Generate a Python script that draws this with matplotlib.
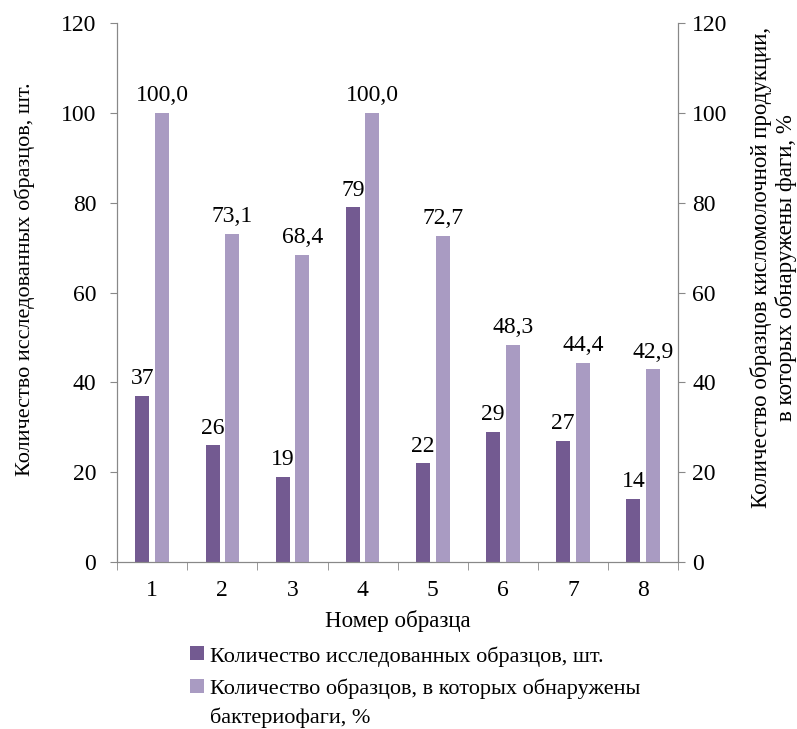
import matplotlib.pyplot as plt
import numpy as np

plt.rcParams['font.family'] = ['Liberation Serif', 'DejaVu Serif']

samples = ['1', '2', '3', '4', '5', '6', '7', '8']
counts = [37, 26, 19, 79, 22, 29, 27, 14]
percents = [100.0, 73.1, 68.4, 100.0, 72.7, 48.3, 44.4, 42.9]

dark = '#735a91'
light = '#a99bc2'
axis_col = '#888888'

fig = plt.figure(figsize=(7.97, 7.29), dpi=100)
ax = fig.add_axes([0.147, 0.229, 0.704, 0.739])
ax2 = ax.twinx()

x = np.arange(len(samples))
w = 0.2
off = 0.14

b1 = ax.bar(x - off, counts, w, color=dark, label='Количество исследованных образцов, шт.')
b2 = ax2.bar(x + off, percents, w, color=light,
             label='Количество образцов, в которых обнаружены\nбактериофаги, %')

# value labels
for xi, v in zip(x, counts):
    ax.text(xi - off, v + 1.5, str(v), ha='center', va='bottom', fontsize=17)
for xi, v in zip(x, percents):
    ax2.text(xi + off, v + 1.5, f'{v:.1f}'.replace('.', ','), ha='center', va='bottom', fontsize=17)

for a in (ax, ax2):
    a.set_ylim(0, 120)
    a.set_yticks(range(0, 121, 20))
    a.set_xlim(-0.5, len(samples) - 0.5)
    a.spines['top'].set_visible(False)
    for s in a.spines.values():
        s.set_color(axis_col)
ax.tick_params(axis='y', colors=axis_col, labelcolor='black', labelsize=17, length=5, pad=10)
ax2.tick_params(axis='y', colors=axis_col, labelcolor='black', labelsize=17, length=5, pad=5)

ax.set_xticks(x)
ax.set_xticklabels(samples)
ax.set_xticks(np.arange(-0.5, len(samples)), minor=True)
ax.tick_params(axis='x', which='major', length=0, labelsize=17, pad=13)
ax.tick_params(axis='x', which='minor', length=6, color=axis_col)

ax.set_xlabel('Номер образца', fontsize=16.5)
ax.xaxis.set_label_coords(0.5, -0.089)
ax.set_ylabel('Количество исследованных образцов, шт.', fontsize=16)
ax.yaxis.set_label_coords(-0.146, 0.525)
ax2.set_ylabel('Количество образцов кисломолочной продукции,\nв которых обнаружены фаги, %',
               fontsize=16.5, rotation=90)
ax2.yaxis.set_label_coords(1.128, 0.547)

leg = fig.legend(handles=[b1, b2], loc='upper left', bbox_to_anchor=(0.225, 0.129),
                 frameon=False, fontsize=16, handlelength=0.6, handleheight=0.6,
                 handletextpad=0.3, labelspacing=0.55, borderpad=0)
leg.get_texts()[1].set_linespacing(1.55)

# square next to the first line of a wrapped label
for col in leg._legend_handle_box.get_children():
    for item in col.get_children():
        item.align = 'top'

plt.savefig('out.png', dpi=100)
plt.close()
